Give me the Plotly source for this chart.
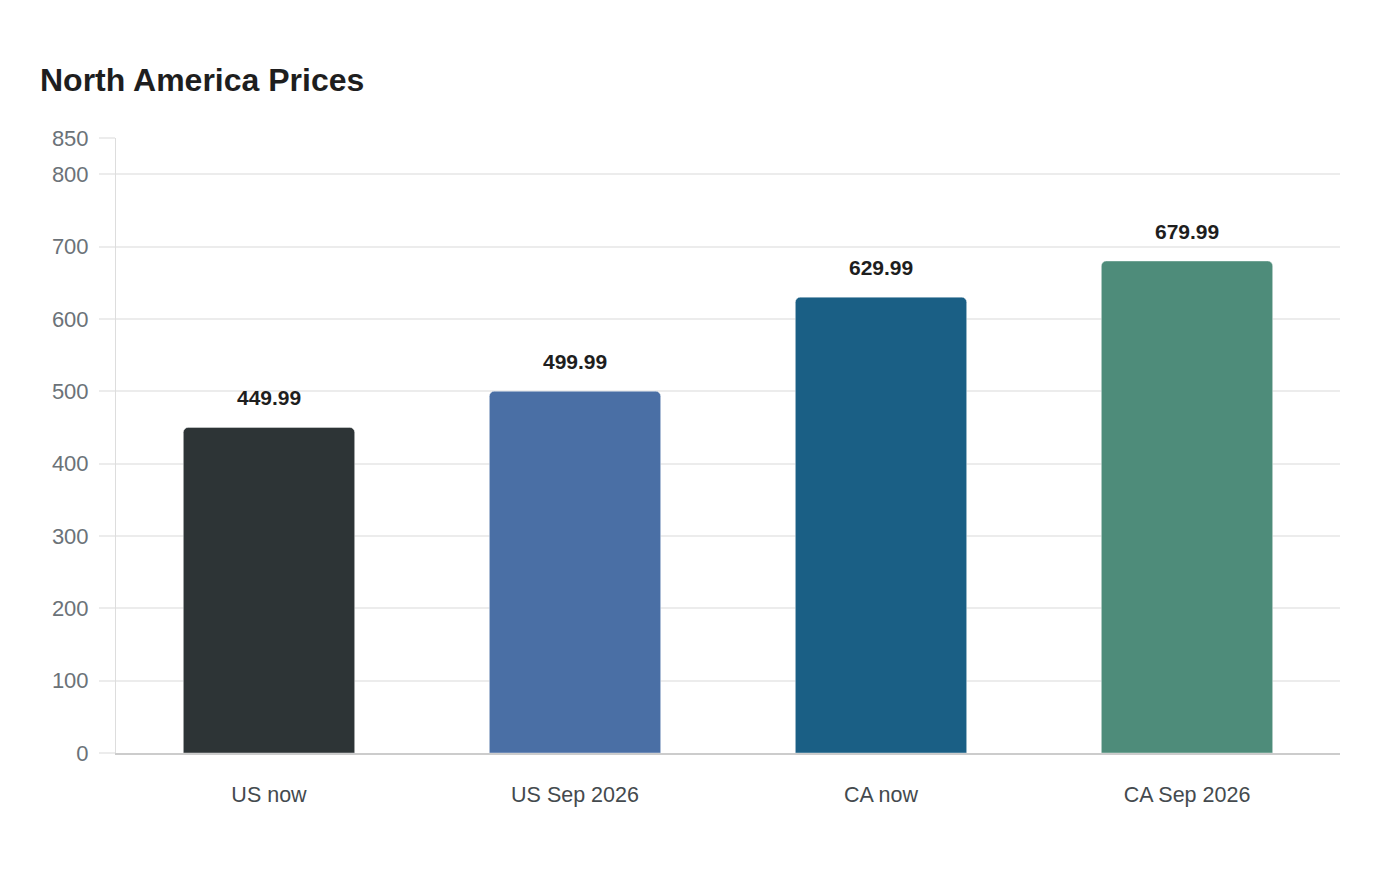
import plotly.graph_objects as go

# Chart data
categories = ["US now", "US Sep 2026", "CA now", "CA Sep 2026"]
prices = [449.99, 499.99, 629.99, 679.99]
bar_colors = ["#2d3436", "#4a6fa5", "#1a5f85", "#4e8c7a"]
tick_vals = [0, 100, 200, 300, 400, 500, 600, 700, 800, 850]

fig = go.Figure()

fig.add_trace(go.Bar(
    x=categories,
    y=prices,
    marker=dict(color=bar_colors, line=dict(color="rgba(255,255,255,0.4)", width=1)),
    width=0.56,
    hoverinfo="x+y",
))

# Value labels above each bar
for cat, val in zip(categories, prices):
    fig.add_annotation(
        x=cat, y=val, text=f"{val:.2f}",
        showarrow=False, yanchor="bottom", yshift=16,
        font=dict(family="Liberation Sans, Arial, sans-serif", size=21, color="#1e1e1e", weight="bold"),
    )

fig.update_layout(
    width=1400, height=880,
    paper_bgcolor="white", plot_bgcolor="white",
    margin=dict(l=108, r=68, t=130, b=135),
    barcornerradius=5,
    showlegend=False,
    title=dict(
        text="<b>North America Prices</b>",
        x=32 / 1400, xanchor="left", xref="container",
        y=1 - 72 / 880, yanchor="middle", yref="container",
        font=dict(family="Liberation Sans, Arial, sans-serif", size=32, color="#1e1e1e"),
    ),
    font=dict(family="Liberation Sans, Arial, sans-serif"),
    xaxis=dict(
        tickfont=dict(size=21.5, color="#444a4e"),
        showline=True, linecolor="#cccccc", linewidth=2,
        ticks="", ticklabelstandoff=21,
    ),
    yaxis=dict(
        range=[0, 850],
        tickvals=tick_vals,
        tickfont=dict(size=22, color="#6b7278"),
        gridcolor="#ececec", gridwidth=1.5,
        showline=True, linecolor="#dddddd", linewidth=1,
        ticks="outside", ticklen=16, tickcolor="#ececec", tickwidth=1.5,
        ticklabelstandoff=6,
        zeroline=False,
    ),
)

fig.write_html("out.html")
